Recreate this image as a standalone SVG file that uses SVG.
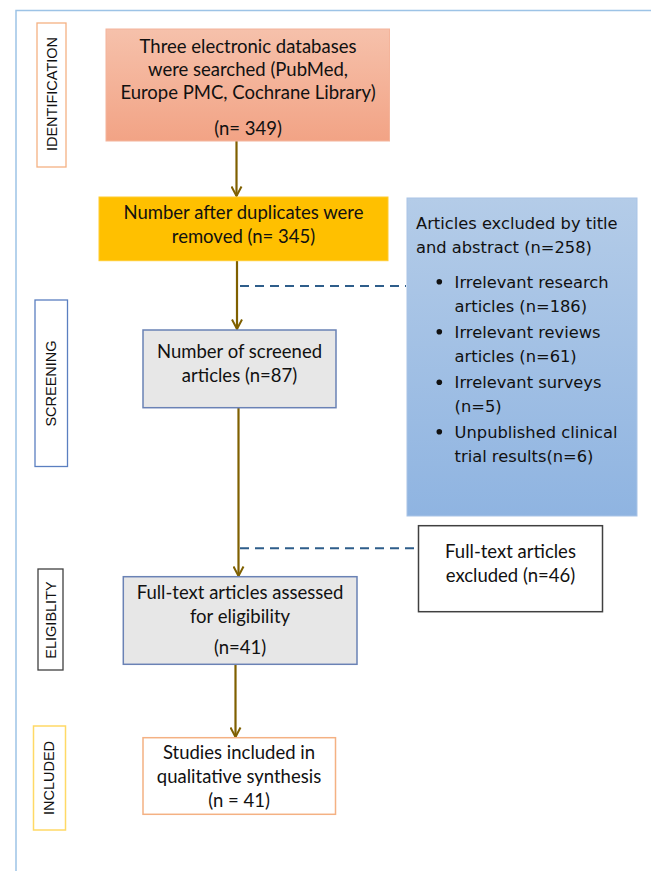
<svg xmlns="http://www.w3.org/2000/svg" width="651" height="871" viewBox="0 0 651 871">
<style>
.t{font-family:Lato,"Liberation Sans",sans-serif;font-size:18.5px;fill:#111;text-anchor:middle}
.b{font-family:"DejaVu Sans",sans-serif;font-size:16.3px;fill:#111}
.lab{font-family:"Liberation Sans",Arial,sans-serif;font-size:14.5px;fill:#111;text-anchor:middle}
.arr{stroke:#7f6000;stroke-width:2.2;fill:none}
.dash{stroke:#2e5d8a;stroke-width:2;stroke-dasharray:9 6;fill:none}
</style>
<defs>
<linearGradient id="gSal" x1="0" y1="0" x2="0" y2="1"><stop offset="0" stop-color="#f6c1ab"/><stop offset="1" stop-color="#f2a385"/></linearGradient>
<linearGradient id="gBlu" x1="0" y1="0" x2="0" y2="1"><stop offset="0" stop-color="#b4cce8"/><stop offset="1" stop-color="#8fb4e1"/></linearGradient>
<marker id="ah" viewBox="0 0 12 12" refX="10.5" refY="6" markerWidth="12" markerHeight="12" markerUnits="userSpaceOnUse" orient="auto"><path d="M1,1 L10.5,6 L1,11" fill="none" stroke="#7f6000" stroke-width="2"/></marker>
</defs>
<rect width="651" height="871" fill="#fff"/>
<path d="M16,871 V10.5 H651" fill="none" stroke="#9dc3e6" stroke-width="1.5"/>

<g id="label-identification"><rect x="37" y="23" width="29" height="144" fill="#fff" stroke="#f4b183" stroke-width="1.3"/><text class="lab" transform="translate(56.5,94) rotate(-90)">IDENTIFICATION</text></g>
<g id="label-screening"><rect x="35" y="300" width="32.5" height="166.5" fill="#fff" stroke="#5b7fc0" stroke-width="1.3"/><text class="lab" transform="translate(55.5,383.5) rotate(-90)">SCREENING</text></g>
<g id="label-eligiblity"><rect x="38" y="569" width="25" height="101" fill="#fff" stroke="#404040" stroke-width="1.3"/><text class="lab" transform="translate(55.5,620) rotate(-90)">ELIGIBLITY</text></g>
<g id="label-included"><rect x="33.5" y="726" width="32" height="104" fill="#fff" stroke="#ffd966" stroke-width="1.5"/><text class="lab" transform="translate(53.5,778) rotate(-90)">INCLUDED</text></g>

<g id="connectors">
<line class="arr" x1="236.5" y1="141" x2="236.5" y2="196" marker-end="url(#ah)"/>
<line class="arr" x1="237" y1="261" x2="237" y2="329" marker-end="url(#ah)"/>
<line class="arr" x1="238.5" y1="408" x2="238.5" y2="576" marker-end="url(#ah)"/>
<line class="arr" x1="235.5" y1="664.5" x2="235.5" y2="737" marker-end="url(#ah)"/>
<line class="dash" x1="240" y1="286" x2="406" y2="286"/>
<line class="dash" x1="240" y1="548.3" x2="418" y2="548.3"/>
</g>

<g id="node-identified"><rect x="106" y="29" width="283.5" height="112" fill="url(#gSal)" stroke="#f4b49b" stroke-width="1"/>
<text class="t" x="248" y="53">Three electronic databases</text>
<text class="t" x="248" y="76">were searched (PubMed,</text>
<text class="t" x="248" y="99">Europe PMC, Cochrane Library)</text>
<text class="t" x="248" y="135">(n= 349)</text></g>

<g id="node-duplicates"><rect x="99" y="197" width="289" height="63.7" fill="#ffc000" stroke="#ffcb2e" stroke-width="1"/>
<text class="t" x="243.5" y="219.3">Number after duplicates were</text>
<text class="t" x="243.5" y="242.7">removed (n= 345)</text></g>

<g id="node-excluded-title"><rect x="407" y="198" width="230" height="318" fill="url(#gBlu)" stroke="#a9c4e6" stroke-width="1"/>
<text class="b" x="416" y="229.3">Articles excluded by title</text>
<text class="b" x="416" y="253.3">and abstract (n=258)</text>
<circle cx="439.3" cy="281.7" r="2.8" fill="#111"/>
<text class="b" x="454.6" y="287.7">Irrelevant research</text>
<text class="b" x="454.6" y="311.7">articles (n=186)</text>
<circle cx="439.3" cy="331.7" r="2.8" fill="#111"/>
<text class="b" x="454.6" y="337.7">Irrelevant reviews</text>
<text class="b" x="454.6" y="361.7">articles (n=61)</text>
<circle cx="439.3" cy="382.3" r="2.8" fill="#111"/>
<text class="b" x="454.6" y="388.3">Irrelevant surveys</text>
<text class="b" x="454.6" y="412">(n=5)</text>
<circle cx="439.3" cy="431.7" r="2.8" fill="#111"/>
<text class="b" x="454.6" y="437.7">Unpublished clinical</text>
<text class="b" x="454.6" y="461.7">trial results(n=6)</text></g>

<g id="node-screened"><rect x="143" y="330" width="193" height="77.7" fill="#e7e7e7" stroke="#6a82b5" stroke-width="1.5"/>
<text class="t" x="239.5" y="358.3">Number of screened</text>
<text class="t" x="239.5" y="381.7">articles (n=87)</text></g>

<g id="node-fulltext-excluded"><rect x="418.5" y="525.7" width="184" height="86" fill="#fff" stroke="#404040" stroke-width="1.5"/>
<text class="t" x="510.5" y="558.3">Full-text articles</text>
<text class="t" x="510.5" y="581.7">excluded (n=46)</text></g>

<g id="node-eligibility"><rect x="123.3" y="576.7" width="233.7" height="87.6" fill="#e7e7e7" stroke="#6a82b5" stroke-width="1.5"/>
<text class="t" x="240" y="598.7">Full-text articles assessed</text>
<text class="t" x="240" y="622.7">for eligibility</text>
<text class="t" x="240" y="654.3">(n=41)</text></g>

<g id="node-included"><rect x="143" y="737.7" width="192.5" height="76.6" fill="#fff" stroke="#f4b183" stroke-width="1.5"/>
<text class="t" x="239" y="759.3">Studies included in</text>
<text class="t" x="239" y="783.3">qualitative synthesis</text>
<text class="t" x="239" y="807.3">(n = 41)</text></g>
</svg>
